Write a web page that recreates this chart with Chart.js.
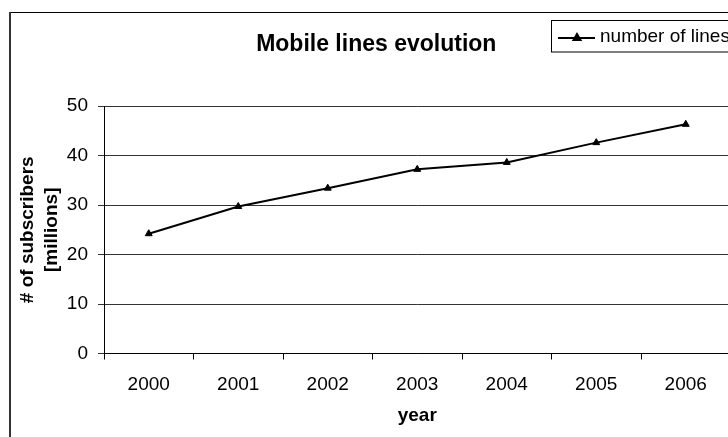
<!DOCTYPE html>
<html>
<head>
<meta charset="utf-8">
<script src="https://cdn.jsdelivr.net/npm/chart.js@4.4.1/dist/chart.umd.min.js"></script>
<style>
  html, body { margin: 0; padding: 0; background: #fff; overflow: hidden; width: 728px; height: 437px; }
  canvas { display: block; }
</style>
</head>
<body>
<canvas id="c" width="740" height="437"></canvas>
<script>
// Mobile subscriber lines per year (millions)
const years = ['2000', '2001', '2002', '2003', '2004', '2005', '2006'];
const subscribers = [24.2, 29.7, 33.4, 37.2, 38.6, 42.6, 46.3];
const seriesName = 'number of lines';
const chartTitle = 'Mobile lines evolution';
const xTitle = 'year';
const yTitle = ['# of subscribers', '[millions]'];
const yMin = 0, yMax = 50, yStep = 10;

const FONT = "Arial, 'Liberation Sans', sans-serif";

// Outer frame of the chart object (top and left edges)
const framePlugin = {
  id: 'frame',
  beforeDraw(chart) {
    const ctx = chart.ctx;
    ctx.save();
    ctx.fillStyle = '#fff';
    ctx.fillRect(0, 0, chart.width, chart.height);
    ctx.strokeStyle = '#000';
    ctx.lineWidth = 1;
    ctx.beginPath();
    ctx.moveTo(10, 12.5);
    ctx.lineTo(chart.width, 12.5);
    ctx.stroke();
    ctx.strokeStyle = '#333';
    ctx.lineWidth = 2;
    ctx.beginPath();
    ctx.moveTo(10, 12);
    ctx.lineTo(10, chart.height);
    ctx.stroke();
    ctx.restore();
  }
};

// Boxed legend with a line sample and marker
const boxLegendPlugin = {
  id: 'boxLegend',
  afterDraw(chart) {
    const ctx = chart.ctx;
    const ds = chart.data.datasets[0];
    ctx.save();
    ctx.strokeStyle = '#000';
    ctx.lineWidth = 1;
    ctx.strokeRect(551.5, 20.5, 220, 31.5);
    ctx.lineWidth = 2;
    ctx.beginPath();
    ctx.moveTo(558, 38);
    ctx.lineTo(595, 38);
    ctx.stroke();
    Chart.helpers.drawPoint(ctx, {
      pointStyle: 'triangle', radius: 4, rotation: 0, borderWidth: 1
    }, 577, 38);
    ctx.fillStyle = '#000';
    ctx.fill();
    ctx.font = '19px ' + FONT;
    ctx.textBaseline = 'middle';
    ctx.textAlign = 'left';
    ctx.fillText(ds.label, 600, 37);
    ctx.restore();
  }
};

new Chart(document.getElementById('c'), {
  type: 'line',
  data: {
    labels: years,
    datasets: [{
      label: seriesName,
      data: subscribers,
      borderColor: '#000',
      borderWidth: 2,
      pointStyle: 'triangle',
      pointRadius: 4,
      pointBorderWidth: 1,
      pointBackgroundColor: '#000',
      pointBorderColor: '#000',
      tension: 0
    }]
  },
  options: {
    responsive: false,
    animation: false,
    devicePixelRatio: 1,
    layout: { padding: { top: 0, left: 22, right: 9.5, bottom: 0 } },
    plugins: {
      legend: { display: false },
      tooltip: { enabled: false },
      title: {
        display: true,
        text: chartTitle,
        color: '#000',
        font: { family: FONT, size: 23, weight: 'bold', lineHeight: 1.2 },
        padding: { top: 31.2, bottom: 47.2 }
      }
    },
    scales: {
      x: {
        type: 'category',
        offset: true,
        grid: {
          display: true,
          drawOnChartArea: false,
          drawTicks: true,
          tickLength: 6,
          offset: true,
          color: '#000'
        },
        border: { display: true, color: '#000', width: 1 },
        ticks: {
          color: '#000',
          font: { family: FONT, size: 19, lineHeight: 1.2 },
          padding: 13.6,
          maxRotation: 0,
          autoSkip: false
        },
        title: {
          display: true,
          text: xTitle,
          color: '#000',
          font: { family: FONT, size: 19, weight: 'bold', lineHeight: 1.2 },
          padding: { top: 0, bottom: 9.6 }
        },
        afterFit(scale) { scale.height = 437 - 353.5; }
      },
      y: {
        min: yMin,
        max: yMax,
        grid: {
          color: '#333',
          lineWidth: 1,
          drawTicks: true,
          tickLength: 6
        },
        border: { display: true, color: '#000', width: 1 },
        ticks: {
          stepSize: yStep,
          color: '#000',
          font: { family: FONT, size: 19, lineHeight: 1.2 },
          padding: 10
        },
        title: {
          display: true,
          text: yTitle,
          color: '#000',
          font: { family: FONT, size: 19, weight: 'bold', lineHeight: 1.3 },
          padding: { top: -6.85, bottom: 0 }
        },
        afterFit(scale) { scale.width = 104 - 22; }
      }
    }
  },
  plugins: [framePlugin, boxLegendPlugin]
});
</script>
</body>
</html>
